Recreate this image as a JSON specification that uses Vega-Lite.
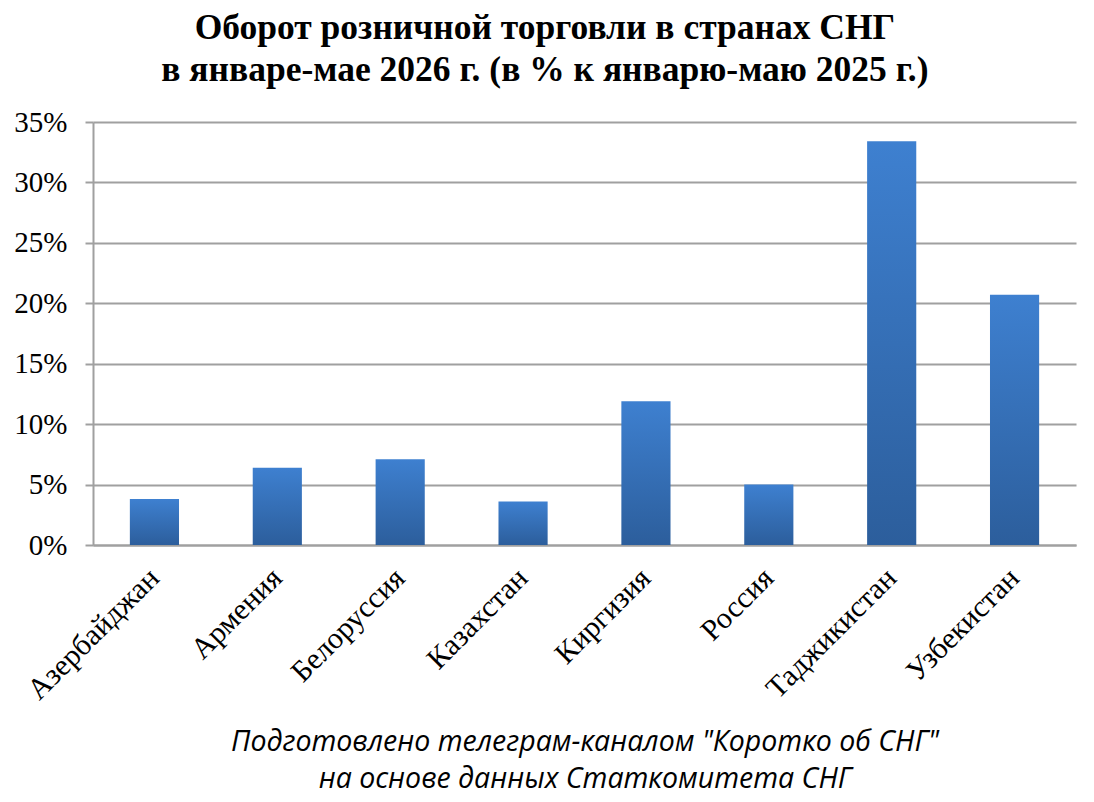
{
  "$schema": "https://vega.github.io/schema/vega-lite/v6.json",
  "width": 983,
  "height": 423,
  "autosize": {"type": "none"},
  "padding": {"left": 93, "top": 122, "right": 18, "bottom": 257},
  "background": "white",
  "title": {
    "text": ["Оборот розничной торговли в странах СНГ", "в январе-мае 2026 г. (в % к январю-маю 2025 г.)"],
    "font": "Liberation Serif",
    "fontSize": 35.5,
    "fontWeight": "bold",
    "color": "#000000",
    "lineHeight": 42,
    "anchor": "middle",
    "frame": "bounds",
    "offset": 20
  },
  "data": {
    "values": [
      {"country": "Азербайджан", "value": 3.8},
      {"country": "Армения", "value": 6.4},
      {"country": "Белоруссия", "value": 7.1},
      {"country": "Казахстан", "value": 3.6},
      {"country": "Киргизия", "value": 11.9},
      {"country": "Россия", "value": 5.0},
      {"country": "Таджикистан", "value": 33.4},
      {"country": "Узбекистан", "value": 20.7}
    ]
  },
  "mark": {
    "type": "bar",
    "color": {
      "gradient": "linear",
      "x1": 0, "y1": 0, "x2": 0, "y2": 1,
      "stops": [
        {"offset": 0, "color": "#3e80d0"},
        {"offset": 1, "color": "#2c5e9c"}
      ]
    }
  },
  "encoding": {
    "x": {
      "field": "country",
      "type": "nominal",
      "sort": null,
      "scale": {"paddingInner": 0.6, "paddingOuter": 0.3},
      "axis": {
        "title": ["Подготовлено телеграм-каналом \"Коротко об СНГ\"", "на основе данных Статкомитета СНГ"],
        "titleFont": "Open Sans",
        "titleFontStyle": "italic",
        "titleFontWeight": "normal",
        "titleFontSize": 28.5,
        "titleLineHeight": 37,
        "titleColor": "#000000",
        "titlePadding": 22,
        "labelAngle": -45,
        "labelAlign": "right",
        "labelBaseline": "middle",
        "labelFont": "Liberation Serif",
        "labelFontSize": 30,
        "labelColor": "#000000",
        "labelPadding": 28,
        "ticks": false,
        "domain": true,
        "domainColor": "#a0a0a0",
        "domainWidth": 2,
        "grid": false
      }
    },
    "y": {
      "field": "value",
      "type": "quantitative",
      "scale": {"domain": [0, 35], "nice": false},
      "axis": {
        "title": null,
        "values": [0, 5, 10, 15, 20, 25, 30, 35],
        "labelExpr": "datum.value + '%'",
        "labelFont": "Liberation Serif",
        "labelFontSize": 29,
        "labelColor": "#000000",
        "labelPadding": 18,
        "tickSize": 8,
        "tickColor": "#a0a0a0",
        "tickWidth": 2,
        "domainColor": "#a0a0a0",
        "domainWidth": 2,
        "grid": true,
        "gridColor": "#a0a0a0",
        "gridWidth": 2
      }
    }
  },
  "config": {
    "view": {"stroke": null}
  }
}
